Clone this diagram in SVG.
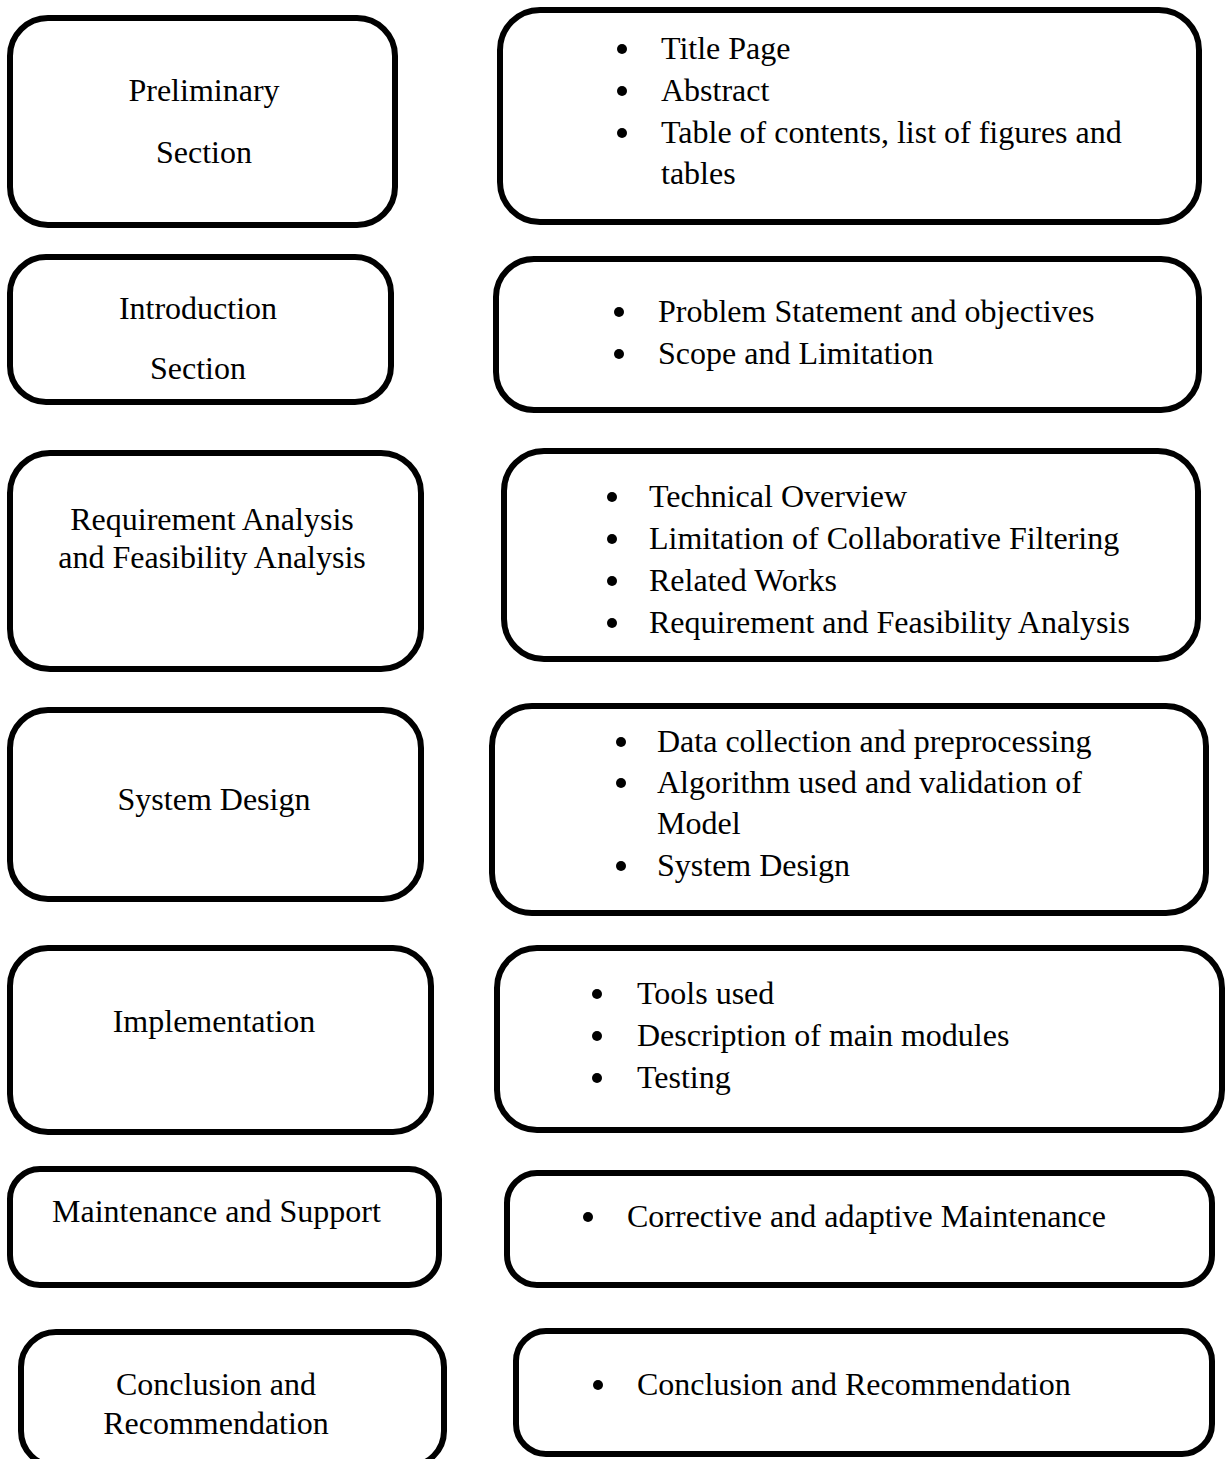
<svg xmlns="http://www.w3.org/2000/svg" width="1225" height="1459" viewBox="0 0 1225 1459">
<style>
.box{fill:#fff;stroke:#000;stroke-width:6}
.t{font-family:"Liberation Serif","Times New Roman",serif;font-size:32px;fill:#000}
.c{text-anchor:middle}
.b{fill:#000}
</style>
<rect width="1225" height="1459" fill="#fff"/>
<g id="connectors"></g>
<g id="prelim-label">
<rect class="box" x="10" y="18" width="385" height="207" rx="38"/>
<text class="t c" x="204" y="101">Preliminary</text>
<text class="t c" x="204" y="163">Section</text>
</g>
<g id="prelim-items">
<rect class="box" x="500" y="10" width="699" height="212" rx="40"/>
<circle class="b" cx="622" cy="49" r="5"/><text class="t" x="661" y="59">Title Page</text>
<circle class="b" cx="622" cy="91" r="5"/><text class="t" x="661" y="101">Abstract</text>
<circle class="b" cx="622" cy="133" r="5"/><text class="t" x="661" y="143">Table of contents, list of figures and</text>
<text class="t" x="661" y="184">tables</text>
</g>
<g id="intro-label">
<rect class="box" x="10" y="257" width="381" height="145" rx="36"/>
<text class="t c" x="198" y="319">Introduction</text>
<text class="t c" x="198" y="379">Section</text>
</g>
<g id="intro-items">
<rect class="box" x="496" y="259" width="703" height="151" rx="38"/>
<circle class="b" cx="619" cy="312" r="5"/><text class="t" x="658" y="322">Problem Statement and objectives</text>
<circle class="b" cx="619" cy="354" r="5"/><text class="t" x="658" y="364">Scope and Limitation</text>
</g>
<g id="req-label">
<rect class="box" x="10" y="453" width="411" height="216" rx="40"/>
<text class="t c" x="212" y="530">Requirement Analysis</text>
<text class="t c" x="212" y="568">and Feasibility Analysis</text>
</g>
<g id="req-items">
<rect class="box" x="504" y="451" width="694" height="208" rx="40"/>
<circle class="b" cx="612" cy="497" r="5"/><text class="t" x="649" y="507">Technical Overview</text>
<circle class="b" cx="612" cy="539" r="5"/><text class="t" x="649" y="549">Limitation of Collaborative Filtering</text>
<circle class="b" cx="612" cy="581" r="5"/><text class="t" x="649" y="591">Related Works</text>
<circle class="b" cx="612" cy="623" r="5"/><text class="t" x="649" y="633">Requirement and Feasibility Analysis</text>
</g>
<g id="design-label">
<rect class="box" x="10" y="710" width="411" height="189" rx="38"/>
<text class="t c" x="214" y="810">System Design</text>
</g>
<g id="design-items">
<rect class="box" x="492" y="706" width="714" height="207" rx="40"/>
<circle class="b" cx="621" cy="742" r="5"/><text class="t" x="657" y="752">Data collection and preprocessing</text>
<circle class="b" cx="621" cy="783" r="5"/><text class="t" x="657" y="793">Algorithm used and validation of</text>
<text class="t" x="657" y="834">Model</text>
<circle class="b" cx="621" cy="866" r="5"/><text class="t" x="657" y="876">System Design</text>
</g>
<g id="impl-label">
<rect class="box" x="10" y="948" width="421" height="184" rx="38"/>
<text class="t c" x="214" y="1032">Implementation</text>
</g>
<g id="impl-items">
<rect class="box" x="497" y="948" width="725" height="182" rx="40"/>
<circle class="b" cx="597" cy="994" r="5"/><text class="t" x="637" y="1004">Tools used</text>
<circle class="b" cx="597" cy="1036" r="5"/><text class="t" x="637" y="1046">Description of main modules</text>
<circle class="b" cx="597" cy="1078" r="5"/><text class="t" x="637" y="1088">Testing</text>
</g>
<g id="maint-label">
<rect class="box" x="10" y="1169" width="429" height="116" rx="30"/>
<text class="t" x="52" y="1222">Maintenance and Support</text>
</g>
<g id="maint-items">
<rect class="box" x="507" y="1173" width="705" height="112" rx="30"/>
<circle class="b" cx="588" cy="1217" r="5"/><text class="t" x="627" y="1227">Corrective and adaptive Maintenance</text>
</g>
<g id="concl-label">
<rect class="box" x="21" y="1332" width="423" height="134" rx="35"/>
<text class="t c" x="216" y="1395">Conclusion and</text>
<text class="t c" x="216" y="1434">Recommendation</text>
</g>
<g id="concl-items">
<rect class="box" x="516" y="1331" width="696" height="123" rx="30"/>
<circle class="b" cx="598" cy="1385" r="5"/><text class="t" x="637" y="1395">Conclusion and Recommendation</text>
</g>
</svg>
